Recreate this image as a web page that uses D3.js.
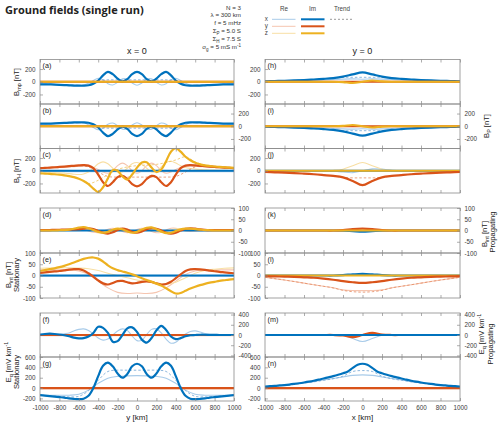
<!DOCTYPE html>
<html lang="en">
<head>
<meta charset="UTF-8">
<title>Ground fields (single run)</title>
<script src="https://d3js.org/d3.v7.min.js"></script>
<style>
  body { margin: 0; background: #fff; }
  svg text { font-family: "Liberation Sans", Arial, sans-serif; }
</style>
</head>
<body>
<div id="chart"></div>
<script>
// x / y positions along the profile [km]
const xs50 = [-1000,-950,-900,-850,-800,-750,-700,-650,-600,-550,-500,-450,-400,-350,-300,-250,-200,-150,-100,-50,0,50,100,150,200,250,300,350,400,450,500,550,600,650,700,750,800,850,900,950,1000];
const xs100 = [-1000,-900,-800,-700,-600,-500,-400,-300,-200,-100,0,100,200,300,400,500,600,700,800,900,1000];
const xsEnd = [-1000, 1000];
const flat = [0, 0];
const xTicks = [-1000,-800,-600,-400,-200,0,200,400,600,800,1000];

// (a) B_mp, x = 0
const aImX = [-40,-40,-42,-45,-48,-52,-56,-60,-62,-62,-55,-30,20,100,155,120,50,5,40,120,155,120,40,5,50,120,155,100,20,-30,-55,-62,-62,-60,-56,-52,-48,-45,-42,-40,-40];
const aReX = [-38,-38,-40,-42,-45,-48,-52,-55,-55,-50,-25,20,55,30,-30,-50,-10,45,40,-20,-55,-20,40,45,-10,-50,-30,30,55,20,-25,-50,-55,-55,-52,-48,-45,-42,-40,-38,-38];
const aTrX = [-40,-42,-46,-50,-55,-45,20,30,30,30,30,30,30,30,20,-45,-55,-50,-46,-42,-40];
// (b) B_P, x = 0
const bImX = [40,40,42,45,48,52,56,60,62,62,55,30,-20,-100,-155,-120,-50,-5,-40,-120,-155,-120,-40,-5,-50,-120,-155,-100,-20,30,55,62,62,60,56,52,48,45,42,40,40];
const bReX = [38,38,40,42,45,48,52,55,55,50,25,-20,-55,-30,30,50,10,-45,-40,20,55,20,-40,-45,10,50,30,-30,-55,-20,25,50,55,55,52,48,45,42,40,38,38];
const bTrX = [40,42,46,50,55,45,-20,-30,-30,-30,-30,-30,-30,-30,-20,45,55,50,46,42,40];
// (c) B_H, x = 0
const cImY = [40,45,50,55,60,66,72,78,85,88,80,40,-60,-180,-240,-180,-100,-80,-130,-210,-245,-210,-130,-80,-100,-180,-240,-180,-60,40,80,88,85,78,72,66,60,55,50,45,40];
const cImZ = [-40,-45,-50,-55,-62,-72,-85,-100,-125,-160,-210,-280,-335,-260,-120,10,0,-90,-140,-60,50,130,135,50,-20,20,150,300,355,300,220,165,125,100,85,75,67,60,55,50,45];
const cReY = [30,35,40,45,50,55,60,65,70,75,70,50,20,-20,-40,0,80,120,80,0,-40,0,80,120,80,0,-40,-20,20,50,70,75,70,65,60,55,50,45,40,35,30];
const cReZ = [-20,-22,-25,-28,-32,-38,-45,-55,-60,-50,-20,40,110,140,110,40,-20,-20,40,110,130,100,40,-20,-10,60,130,150,120,80,50,35,25,20,15,12,10,8,6,5,5];
const cTrY = [40,50,60,70,80,60,-20,-90,-100,-100,-100,-100,-100,-100,-90,-20,60,80,70,60,50];
const cTrZ = [-40,-50,-60,-80,-120,-200,-150,-60,20,60,80,90,100,130,170,220,140,90,65,55,45];
// (d) B_int propagating, x = 0
const dImZ = [0,0,0,0,1,2,4,8,13,15,10,2,-6,-10,-6,3,8,5,-4,-10,-6,4,12,14,6,-5,-12,-10,-2,5,8,8,6,4,2,1,0,0,0,0,0];
const dImY = [2,2,2,3,3,4,4,5,6,8,10,6,-2,-10,-14,-8,2,8,4,-6,-10,-4,6,10,8,0,-10,-14,-10,0,8,10,8,5,3,2,2,2,2,2,2];
const dReY = [0,0,0,0,0,1,2,4,6,4,-2,-8,-10,-4,6,10,6,-4,-10,-6,4,10,6,-4,-10,-8,2,10,10,4,-2,-4,-3,-2,-1,0,0,0,0,0,0];
const dReZ = [0,0,0,0,0,0,1,3,6,8,6,0,-6,-8,-3,5,8,3,-5,-8,-2,6,8,3,-4,-8,-6,2,8,8,4,2,1,0,0,0,0,0,0,0,0];
// (e) B_int stationary, x = 0
const eImZ = [20,24,28,32,37,43,50,58,66,74,79,80,75,62,45,32,24,18,12,5,-3,-12,-20,-28,-36,-45,-57,-70,-80,-78,-68,-58,-50,-43,-37,-32,-28,-24,-21,-18,-16];
const eImY = [12,14,16,18,20,23,26,28,28,22,10,-5,-22,-35,-40,-33,-25,-24,-30,-35,-33,-28,-26,-28,-35,-40,-38,-28,-12,5,20,27,28,27,25,22,19,16,14,12,10];
const eReY = [25,25,25,24,20,5,-25,-55,-75,-80,-78,-80,-75,-55,-25,5,20,24,25,25,25];
const eReZ = [32,33,34,34,33,30,22,10,0,-10,-20,-28,-35,-38,-30,-10,10,22,28,32,34];
// (f) E_q propagating, x = 0
const fImX = [10,20,25,20,10,-5,-25,-50,-65,-60,-30,40,160,140,40,-130,-120,0,130,150,60,-90,-150,-60,90,180,100,-30,-80,-60,-25,-5,0,5,5,3,2,0,0,0,0];
const fReX = [0,0,0,0,10,25,40,80,110,120,90,20,-60,-100,-80,0,80,120,90,-20,-110,-100,10,110,120,40,-80,-160,-140,-60,20,70,80,60,30,10,0,0,0,0,0];
// (g) E_q stationary, x = 0
const gImX = [-135,-145,-155,-165,-175,-185,-200,-210,-215,-205,-150,0,230,430,490,420,280,200,270,420,470,420,270,200,280,420,490,430,230,0,-150,-205,-215,-210,-200,-185,-175,-165,-155,-145,-135];
const gReX = [-140,-140,-140,-138,-120,-40,90,190,225,235,240,235,225,190,90,-40,-120,-138,-140,-140,-140];
const gTrX = [-140,-150,-160,-170,-160,-50,150,320,345,345,345,345,345,320,150,-50,-160,-170,-160,-150,-140];
const bandLow = [-14, -14];

// (h) B_mp, y = 0
const hImX = [8,12,16,21,27,35,45,58,80,115,148,115,80,58,45,35,27,21,16,12,8];
const hReX = [5,7,10,13,17,22,28,35,42,45,40,45,42,35,28,22,17,13,10,7,5];
const hTrX = [8,12,16,21,27,35,45,58,70,70,70,70,70,58,45,35,27,21,16,12,8];
const hImZ = [0,0,0,0,0,0,0,0,-5,-20,0,20,5,0,0,0,0,0,0,0,0];
// (i) B_P, y = 0
const iImX = [-8,-12,-16,-21,-27,-35,-45,-58,-80,-115,-148,-115,-80,-58,-45,-35,-27,-21,-16,-12,-8];
const iReX = [-5,-7,-10,-13,-17,-22,-28,-35,-42,-45,-40,-45,-42,-35,-28,-22,-17,-13,-10,-7,-5];
const iTrX = [-8,-12,-16,-21,-27,-35,-45,-58,-70,-70,-70,-70,-70,-58,-45,-35,-27,-21,-16,-12,-8];
const iImZ = [0,0,0,0,0,0,0,0,5,20,0,-20,-5,0,0,0,0,0,0,0,0];
// (j) B_H, y = 0
const jImY = [-20,-25,-30,-37,-45,-55,-68,-82,-105,-160,-225,-160,-105,-82,-68,-55,-45,-37,-30,-25,-20];
const jReZ = [0,0,0,0,0,0,0,5,25,80,130,80,25,5,0,0,0,0,0,0,0];
const jReX = [0,0,0,0,0,0,0,-5,-20,-30,0,30,25,8,0,0,0,0,0,0,0];
const jTrY = [-20,-25,-30,-37,-45,-55,-68,-82,-105,-112,-112,-112,-105,-82,-68,-55,-45,-37,-30,-25,-20];
// (k) B_int propagating, y = 0
const kImY = [0,0,0,0,0,0,0,0,2,6,8,6,2,0,0,0,0,0,0,0,0];
const kImX = [0,0,0,0,0,0,0,0,-1,-3,-5,-3,-1,0,0,0,0,0,0,0,0];
// (l) B_int stationary, y = 0
const lImY = [-3,-4,-5,-6,-8,-10,-14,-19,-25,-30,-33,-30,-25,-19,-14,-10,-8,-6,-5,-4,-3];
const lReY = [-8,-14,-20,-27,-34,-41,-48,-55,-64,-67,-67,-67,-64,-55,-48,-41,-34,-27,-20,-14,-8];
const lTrY = [-8,-14,-20,-27,-34,-41,-48,-55,-66,-72,-74,-72,-66,-55,-48,-41,-34,-27,-20,-14,-8];
const lImX = [0,0,0,0,0,0,0,0,2,5,7,5,2,0,0,0,0,0,0,0,0];
// (m) E_q propagating, y = 0
const mImY = [0,0,0,0,0,0,0,0,-8,-40,0,40,8,0,0,0,0,0,0,0,0];
const mReX = [0,0,0,0,0,0,0,0,-5,-70,-128,-70,-5,0,0,0,0,0,0,0,0];
// (n) E_q stationary, y = 0
const nImX = [30,36,42,50,58,68,80,93,108,124,142,162,185,207,230,256,285,320,390,450,470,450,390,320,285,256,230,207,185,162,142,124,108,93,80,68,58,50,42,36,30];
const nReX = [28,40,55,75,100,125,155,185,215,245,255,245,215,185,155,125,100,75,55,40,28];
const nTrX = [29,38,52,70,95,120,150,180,230,320,338,320,230,180,150,120,95,70,52,38,29];

// colours (MATLAB-like)
const colors = {
  x: { Re: '#a8cbe9', Im: '#0072bd', Tr: '#6fa3d4' },
  y: { Re: '#f5c5b0', Im: '#d95319', Tr: '#e58a62' },
  z: { Re: '#f8dfa4', Im: '#edb120', Tr: '#eec25a' }
};

function s(xs, ys, comp, kind) { return { xs: xs, ys: ys, comp: comp, kind: kind }; }

const colX = [[40, 234], [265, 460]];
const rowY = [[59.5, 104], [104, 148.5], [148.5, 193], [208, 253], [253, 298], [313, 357], [357, 401]];

const dB = [-350, 350], dI = [-100, 100], dEp = [-430, 430], dEs = [-250, 600];
const tB = [-200, 0, 200], tI = [-100, -50, 0, 50, 100], tEp = [-400, -200, 0, 200, 400], tEs = [-200, 0, 200, 400, 600];

const panels = [
  { id: 'a', col: 0, row: 0, dom: dB, ticks: tB, side: 'left', series: [
    s(xs50, aReX, 'x', 'Re'), s(xsEnd, flat, 'y', 'Re'), s(xsEnd, flat, 'z', 'Re'), s(xs100, aTrX, 'x', 'Tr'),
    s(xs50, aImX, 'x', 'Im'), s(xsEnd, flat, 'y', 'Im'), s(xsEnd, flat, 'z', 'Im')] },
  { id: 'b', col: 0, row: 1, dom: dB, ticks: tB, side: 'right', series: [
    s(xs50, bReX, 'x', 'Re'), s(xsEnd, flat, 'z', 'Re'), s(xs100, bTrX, 'x', 'Tr'),
    s(xs50, bImX, 'x', 'Im'), s(xsEnd, flat, 'y', 'Im'), s(xsEnd, flat, 'z', 'Im')] },
  { id: 'c', col: 0, row: 2, dom: dB, ticks: tB, side: 'left', series: [
    s(xsEnd, bandLow, 'x', 'Re'), s(xs50, cReY, 'y', 'Re'), s(xs50, cReZ, 'z', 'Re'),
    s(xs100, cTrY, 'y', 'Tr'), s(xs100, cTrZ, 'z', 'Tr'),
    s(xsEnd, flat, 'x', 'Im'), s(xs50, cImY, 'y', 'Im'), s(xs50, cImZ, 'z', 'Im')] },
  { id: 'd', col: 0, row: 3, dom: dI, ticks: tI, side: 'right', series: [
    s(xs50, dReY, 'y', 'Re'), s(xs50, dReZ, 'z', 'Re'),
    s(xsEnd, flat, 'x', 'Im'), s(xs50, dImY, 'y', 'Im'), s(xs50, dImZ, 'z', 'Im')] },
  { id: 'e', col: 0, row: 4, dom: dI, ticks: tI, side: 'left', series: [
    s(xsEnd, [-3, -3], 'x', 'Re'), s(xs100, eReY, 'y', 'Re'), s(xs100, eReZ, 'z', 'Re'),
    s(xsEnd, flat, 'x', 'Im'), s(xs50, eImY, 'y', 'Im'), s(xs50, eImZ, 'z', 'Im')] },
  { id: 'f', col: 0, row: 5, dom: dEp, ticks: tEp, side: 'right', series: [
    s(xs50, fReX, 'x', 'Re'), s(xsEnd, bandLow, 'y', 'Re'),
    s(xsEnd, flat, 'y', 'Im'), s(xs50, fImX, 'x', 'Im')] },
  { id: 'g', col: 0, row: 6, dom: dEs, ticks: tEs, side: 'left', series: [
    s(xs100, gReX, 'x', 'Re'), s(xsEnd, bandLow, 'y', 'Re'), s(xs100, gTrX, 'x', 'Tr'),
    s(xsEnd, flat, 'y', 'Im'), s(xs50, gImX, 'x', 'Im')] },
  { id: 'h', col: 1, row: 0, dom: dB, ticks: tB, side: 'left', series: [
    s(xs100, hReX, 'x', 'Re'), s(xsEnd, flat, 'z', 'Re'), s(xs100, hTrX, 'x', 'Tr'),
    s(xs100, hImX, 'x', 'Im'), s(xsEnd, flat, 'y', 'Im'), s(xs100, hImZ, 'z', 'Im')] },
  { id: 'i', col: 1, row: 1, dom: dB, ticks: tB, side: 'right', series: [
    s(xs100, iReX, 'x', 'Re'), s(xsEnd, flat, 'z', 'Re'), s(xs100, iTrX, 'x', 'Tr'),
    s(xs100, iImX, 'x', 'Im'), s(xsEnd, flat, 'y', 'Im'), s(xs100, iImZ, 'z', 'Im')] },
  { id: 'j', col: 1, row: 2, dom: dB, ticks: tB, side: 'left', series: [
    s(xs100, jReX, 'x', 'Re'), s(xs100, jReZ, 'z', 'Re'), s(xs100, jTrY, 'y', 'Tr'),
    s(xsEnd, flat, 'x', 'Im'), s(xsEnd, flat, 'z', 'Im'), s(xs100, jImY, 'y', 'Im')] },
  { id: 'k', col: 1, row: 3, dom: dI, ticks: tI, side: 'right', series: [
    s(xsEnd, flat, 'y', 'Re'), s(xs100, kImX, 'x', 'Im'), s(xs100, kImY, 'y', 'Im'), s(xsEnd, flat, 'z', 'Im')] },
  { id: 'l', col: 1, row: 4, dom: dI, ticks: tI, side: 'left', series: [
    s(xs100, lReY, 'y', 'Re'), s(xs100, lTrY, 'y', 'Tr'),
    s(xs100, lImX, 'x', 'Im'), s(xsEnd, flat, 'z', 'Im'), s(xs100, lImY, 'y', 'Im')] },
  { id: 'm', col: 1, row: 5, dom: dEp, ticks: tEp, side: 'right', series: [
    s(xs100, mReX, 'x', 'Re'), s(xs100, mImY, 'y', 'Im'), s(xsEnd, flat, 'x', 'Im')] },
  { id: 'n', col: 1, row: 6, dom: dEs, ticks: tEs, side: 'left', series: [
    s(xs100, nReX, 'x', 'Re'), s(xsEnd, bandLow, 'y', 'Re'), s(xs100, nTrX, 'x', 'Tr'),
    s(xsEnd, flat, 'y', 'Im'), s(xs50, nImX, 'x', 'Im')] }
];

const svg = d3.select('#chart').append('svg')
  .attr('width', 500).attr('height', 424)
  .style('background', '#fff');

const defs = svg.append('defs');
const axisCol = '#8a8a8a';
const txtCol = '#3a3a3a';

panels.forEach(function (p) {
  const [x0, x1] = colX[p.col];
  const [y0, y1] = rowY[p.row];
  const x = d3.scaleLinear().domain([-1000, 1000]).range([x0, x1]);
  const y = d3.scaleLinear().domain(p.dom).range([y1, y0]);

  defs.append('clipPath').attr('id', 'clip-' + p.id)
    .append('rect').attr('x', x0).attr('y', y0).attr('width', x1 - x0).attr('height', y1 - y0);

  const g = svg.append('g');
  const plot = g.append('g').attr('clip-path', 'url(#clip-' + p.id + ')');

  const line = d3.line()
    .x(d => x(d[0])).y(d => y(d[1]))
    .curve(d3.curveCatmullRom.alpha(0.5));

  // Re first, trends, then Im on top
  const order = { Re: 0, Tr: 1, Im: 2 };
  p.series.slice().sort((a, b) => order[a.kind] - order[b.kind]).forEach(function (ser) {
    const pts = ser.xs.map((v, i) => [v, ser.ys[i]]);
    plot.append('path')
      .attr('d', line(pts))
      .attr('fill', 'none')
      .attr('stroke', colors[ser.comp][ser.kind])
      .attr('stroke-width', ser.kind === 'Im' ? 2.2 : (ser.kind === 'Re' ? 1.1 : 0.8))
      .attr('stroke-dasharray', ser.kind === 'Tr' ? '2.5,2' : null)
      .attr('stroke-linejoin', 'round');
  });

  // box
  g.append('rect').attr('x', x0).attr('y', y0).attr('width', x1 - x0).attr('height', y1 - y0)
    .attr('fill', 'none').attr('stroke', axisCol).attr('stroke-width', 0.8);

  // x ticks inward, top and bottom
  const topAxis = d3.axisTop(x).tickValues(xTicks).tickSizeInner(-3).tickSizeOuter(0).tickFormat('');
  const botAxis = d3.axisBottom(x).tickValues(xTicks).tickSizeInner(-3).tickSizeOuter(0)
    .tickFormat(p.row === 6 ? (d => String(d)) : '');
  const ta = g.append('g').attr('transform', 'translate(0,' + y0 + ')').call(topAxis);
  const ba = g.append('g').attr('transform', 'translate(0,' + y1 + ')').call(botAxis);
  [ta, ba].forEach(a => {
    a.select('.domain').remove();
    a.selectAll('line').attr('stroke', axisCol).attr('stroke-width', 0.7);
    a.selectAll('text').attr('font-size', 6.3).attr('fill', txtCol).attr('font-family', 'Liberation Sans, Arial, sans-serif');
  });
  ba.selectAll('text').attr('y', 5);

  // y axis on one side
  const yAxis = (p.side === 'left' ? d3.axisLeft(y) : d3.axisRight(y))
    .tickValues(p.ticks).tickSizeInner(-3).tickSizeOuter(0).tickPadding(4.5)
    .tickFormat(d => String(d));
  const ya = g.append('g').attr('transform', 'translate(' + (p.side === 'left' ? x0 : x1) + ',0)').call(yAxis);
  ya.select('.domain').remove();
  ya.selectAll('line').attr('stroke', axisCol).attr('stroke-width', 0.7);
  ya.selectAll('text').attr('font-size', 6.3).attr('fill', txtCol).attr('font-family', 'Liberation Sans, Arial, sans-serif');

  // panel letter
  g.append('text').attr('x', x0 + 2.5).attr('y', y0 + 8.5)
    .attr('font-size', 7.2).attr('fill', '#222').text('(' + p.id + ')');
});

// title and run parameters
svg.append('text').attr('x', 5).attr('y', 14).attr('font-size', 11).attr('font-weight', 'bold')
  .attr('fill', '#222').style('font-family', '"Open Sans", sans-serif').text('Ground fields (single run)');

const params = [
  ['N = 3'], ['λ = 300 km'], ['f = 5 mHz'],
  ['Σ', 'P', ' = 5.0 S'], ['Σ', 'H', ' = 7.5 S'], ['σ', 'g', ' = 5 mS m', '-1']
];
params.forEach(function (pp, i) {
  const t = svg.append('text').attr('x', 241).attr('y', 9.5 + i * 7.9)
    .attr('text-anchor', 'end').attr('font-size', 6.2).attr('fill', '#333');
  t.append('tspan').text(pp[0]);
  if (pp.length > 1) {
    t.append('tspan').attr('font-size', 4.5).attr('dy', 1.5).text(pp[1]);
    t.append('tspan').attr('dy', -1.5).text(pp[2]);
  }
  if (pp.length > 3) {
    t.append('tspan').attr('font-size', 4.5).attr('dy', -2.2).text(pp[3]);
  }
});

// column headers
svg.append('text').attr('x', 137).attr('y', 53.5).attr('text-anchor', 'middle')
  .attr('font-size', 9).attr('fill', '#222').text('x = 0');
svg.append('text').attr('x', 362.5).attr('y', 53.5).attr('text-anchor', 'middle')
  .attr('font-size', 9).attr('fill', '#222').text('y = 0');

// legend
const legCols = [{ k: 'Re', x: 272 }, { k: 'Im', x: 301 }, { k: 'Tr', x: 330 }];
[['Re', 284], ['Im', 312.5], ['Trend', 342]].forEach(h => {
  svg.append('text').attr('x', h[1]).attr('y', 10.5).attr('text-anchor', 'middle')
    .attr('font-size', 6.3).attr('fill', '#444').text(h[0]);
});
['x', 'y', 'z'].forEach(function (c, i) {
  const yy = 19.3 + i * 7;
  svg.append('text').attr('x', 268).attr('y', yy + 2).attr('text-anchor', 'end')
    .attr('font-size', 6.3).attr('fill', '#444').text(c);
  legCols.forEach(function (lc) {
    if (lc.k === 'Tr' && c !== 'x') return;
    svg.append('line').attr('x1', lc.x).attr('x2', lc.x + 23.5).attr('y1', yy).attr('y2', yy)
      .attr('stroke', lc.k === 'Tr' ? '#9a9a9a' : colors[c][lc.k])
      .attr('stroke-width', lc.k === 'Im' ? 2 : 1)
      .attr('stroke-dasharray', lc.k === 'Tr' ? '2,2' : null);
  });
});

// axis labels
function yLabel(x, cy, main, sub, unit, sup) {
  const t = svg.append('text').attr('transform', 'translate(' + x + ',' + cy + ') rotate(-90)')
    .attr('text-anchor', 'middle').attr('font-size', 7.6).attr('fill', '#222');
  t.append('tspan').text(main);
  if (sub) t.append('tspan').attr('font-size', 5.4).attr('dy', 1.8).text(sub);
  t.append('tspan').attr('dy', sub ? -1.8 : 0).text(unit);
  if (sup) t.append('tspan').attr('font-size', 5.4).attr('dy', -2.8).text(sup);
}
function plainLabel(x, cy, txt) {
  svg.append('text').attr('transform', 'translate(' + x + ',' + cy + ') rotate(-90)')
    .attr('text-anchor', 'middle').attr('font-size', 7.6).attr('fill', '#222').text(txt);
}
yLabel(19, 82, 'B', 'mp', '  [nT]');
yLabel(19, 171, 'B', 'H', '  [nT]');
yLabel(11, 275, 'B', 'int', '  [nT]');
plainLabel(19, 275, 'Stationary');
yLabel(11, 362, 'E', 'q', '  [mV km', '-1');
plainLabel(19, 372, 'Stationary');
yLabel(489, 126, 'B', 'P', '  [nT]');
yLabel(487, 234, 'B', 'int', '  [nT]');
plainLabel(495, 232, 'Propagating');
yLabel(484, 334, 'E', 'q', '  [mV km', '-1');
plainLabel(493, 344, 'Propagating');

// x labels
svg.append('text').attr('x', 137).attr('y', 419.5).attr('text-anchor', 'middle')
  .attr('font-size', 8).attr('fill', '#222').text('y [km]');
svg.append('text').attr('x', 362.5).attr('y', 419.5).attr('text-anchor', 'middle')
  .attr('font-size', 8).attr('fill', '#222').text('x [km]');
</script>
</body>
</html>
